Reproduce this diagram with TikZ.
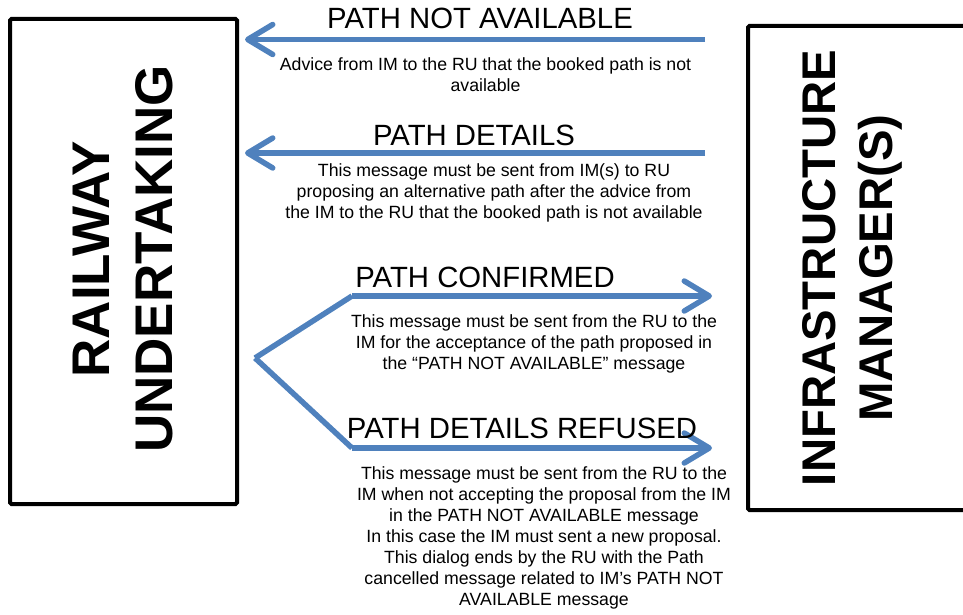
\documentclass[tikz,border=0pt]{standalone}
\usepackage{fontspec}
\setmainfont{Liberation Sans}
\usetikzlibrary{arrows.meta}
\definecolor{msgblue}{RGB}{79,129,189}
\begin{document}
\begin{tikzpicture}[x=1pt,y=-1pt,
  party/.style={draw=black, line width=4pt, rounded corners=1.5pt, inner sep=0pt},
  partylabel/.style={font=\bfseries, rotate=90, align=center, inner sep=0pt},
  msg/.style={draw=msgblue, line width=5.5pt,
    -{Straight Barb[length=25pt,width=30pt,line width=5.5pt,round]}},
  forkline/.style={draw=msgblue, line width=5.5pt, line join=miter},
  msgtitle/.style={font=\fontsize{29.3}{34}\selectfont, inner sep=0pt, anchor=base},
  note/.style={font=\fontsize{17.7}{21}\selectfont, align=center, inner sep=0pt}]

\useasboundingbox (0,0) rectangle (963,615);

% the two parties
\node[party, minimum width=227pt, minimum height=485pt] (ru) at (123.5,261.5) {};
\node[party, minimum width=232pt, minimum height=484pt, anchor=west] (im) at (746,268) {};

\node[partylabel, font=\bfseries\fontsize{53}{63}\selectfont] (rulabel) at (123.5,259) {RAILWAY\\UNDERTAKING};
\node[partylabel, font=\bfseries\fontsize{47.3}{57}\selectfont] (imlabel) at (852.5,268) {INFRASTRUCTURE\\MANAGER(S)};

% messages from the IM to the RU
\coordinate (naStart) at (705,39.5);
\coordinate (naEnd) at (245,39.5);
\draw[msg] (naStart) -- (naEnd);
\node[msgtitle] (naTitle) at (480,29) {PATH NOT AVAILABLE};
\node[note] (naNote) at (485.5,74.5) {Advice from IM to the RU that the booked path is not\\available};

\coordinate (pdStart) at (705,153);
\coordinate (pdEnd) at (245,153);
\draw[msg] (pdStart) -- (pdEnd);
\node[msgtitle] (pdTitle) at (474,145) {PATH DETAILS};
\node[note] (pdNote) at (494,192.5) {This message must be sent from IM(s) to RU\\proposing an alternative path after the advice from\\the IM to the RU that the booked path is not available};

% replies from the RU to the IM
\coordinate (fork) at (255,358);
\coordinate (pcCorner) at (352,296);
\coordinate (pcEnd) at (712,296);
\coordinate (prCorner) at (352,448);
\coordinate (prEnd) at (712,448);
\draw[forkline] (fork) -- (pcCorner);
\draw[forkline] (fork) -- (prCorner);
\draw[msg] (pcCorner) -- (pcEnd);
\draw[msg] (prCorner) -- (prEnd);

\node[msgtitle] (pcTitle) at (485,287) {PATH CONFIRMED};
\node[note] (pcNote) at (534,344) {This message must be sent from the RU to the\\IM for the acceptance of the path proposed in\\the “PATH NOT AVAILABLE” message};

\node[msgtitle] (prTitle) at (522,438) {PATH DETAILS REFUSED};
\node[note] (prNote) at (544,538) {This message must be sent from the RU to the\\IM when not accepting the proposal from the IM\\in the PATH NOT AVAILABLE message\\In this case the IM must sent a new proposal.\\This dialog ends by the RU with the Path\\cancelled message related to IM’s PATH NOT\\AVAILABLE message};
\end{tikzpicture}
\end{document}
